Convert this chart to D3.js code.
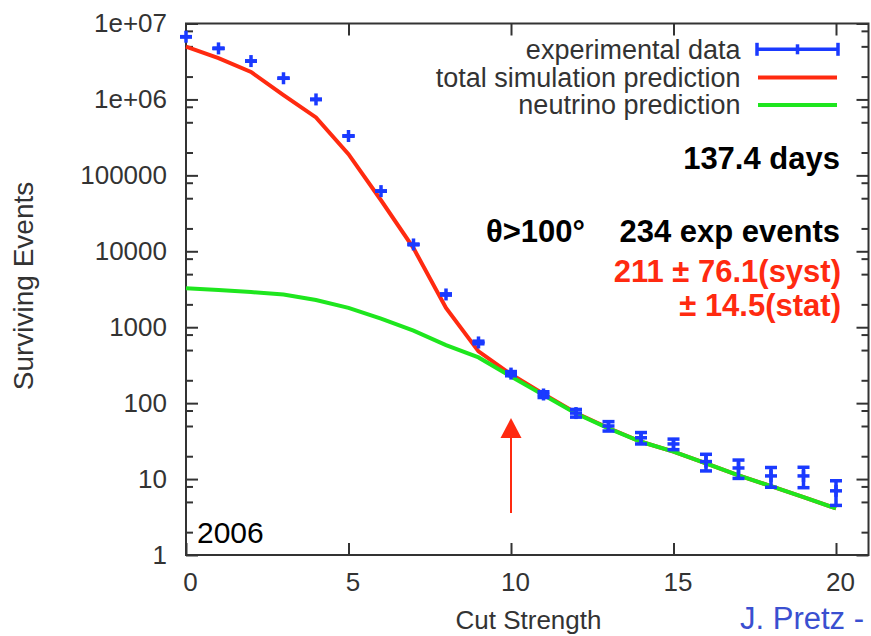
<!DOCTYPE html>
<html>
<head>
<meta charset="utf-8">
<script src="https://cdn.jsdelivr.net/npm/d3@7"></script>
<style>
  body { margin: 0; background: #fff; }
  svg { display: block; font-family: "Liberation Sans", Arial, Helvetica, sans-serif; }
  .axis text { font-size: 26px; fill: #333; }
  .axis line { stroke: #333; stroke-width: 2; }
</style>
</head>
<body>
<div id="chart"></div>
<script>
// cut strength bins
const cuts = [0, 1, 2, 3, 4, 5, 6, 7, 8, 9, 10, 11, 12, 13, 14, 15, 16, 17, 18, 19, 20];
const expData = [6.7e6, 4.7e6, 3.2e6, 1.9e6, 1.0e6, 3.3e5, 6.2e4, 1.23e4, 2.7e3, 630, 245, 130, 74, 50, 35, 29, 17, 14, 11, 11, 7];
const expErr = [2590, 2170, 1790, 1380, 1000, 575, 249, 111, 52, 25, 15.7, 11.4, 8.6, 7.1, 6, 4.6, 4.2, 3.8, 3.2, 3.3, 2.5];
// simulation curves
const simTotal = [4.95e6, 3.5e6, 2.3e6, 1.14e6, 5.8e5, 1.9e5, 4.7e4, 1.1e4, 1.8e3, 480, 240, 132, 74, 47, 31, 23, 16.1, 11.2, 8.05, 5.8, 4.1];
const simNeutrino = [3250, 3080, 2900, 2700, 2280, 1800, 1300, 900, 580, 400, 225, 128, 73, 46.5, 31, 23, 16.1, 11.2, 8.05, 5.8, 4.1];

const xTicks = [0, 5, 10, 15, 20];
const yTicks = [1, 10, 100, 1000, 1e4, 1e5, 1e6, 1e7];
const yTickLabels = ['1', '10', '100', '1000', '10000', '100000', '1e+06', '1e+07'];
const legendLabels = ['experimental data', 'total simulation prediction', 'neutrino prediction'];

const blue = '#1a3aff', red = '#ff2a10', green = '#1ee61e';

const width = 871, height = 636;
const plot = { left: 186, top: 23.5, right: 868.5, bottom: 555 };

const x = d3.scaleLinear().domain([0, 21]).range([plot.left, plot.right]);
const y = d3.scaleLog().domain([1, 1e7]).range([plot.bottom, plot.top]);

const yMinor = yTicks.slice(0, -1).flatMap(d => [2 * d, 5 * d, 8 * d]);

const svg = d3.select('#chart').append('svg')
    .attr('width', width)
    .attr('height', height);

// axes
function addAxis(axis, tx, ty) {
    const g = svg.append('g')
        .attr('class', 'axis')
        .attr('transform', `translate(${tx},${ty})`)
        .call(axis);
    g.select('.domain').remove();
    return g;
}

addAxis(d3.axisLeft(y).tickValues(yTicks).tickFormat((d, i) => yTickLabels[i]).tickSize(-12).tickPadding(19), plot.left, 0);
addAxis(d3.axisLeft(y).tickValues(yMinor).tickFormat('').tickSize(-7), plot.left, 0);
addAxis(d3.axisRight(y).tickValues(yTicks).tickFormat('').tickSize(-12), plot.right, 0);
addAxis(d3.axisRight(y).tickValues(yMinor).tickFormat('').tickSize(-7), plot.right, 0);
addAxis(d3.axisBottom(x).tickValues(xTicks).tickSize(-12).tickPadding(18), 0, plot.bottom)
    .selectAll('text').attr('dx', 4);
addAxis(d3.axisTop(x).tickValues(xTicks.slice(1)).tickFormat('').tickSize(-12), 0, plot.top);

svg.append('rect')
    .attr('x', plot.left)
    .attr('y', plot.top)
    .attr('width', plot.right - plot.left)
    .attr('height', plot.bottom - plot.top)
    .attr('fill', 'none')
    .attr('stroke', '#333')
    .attr('stroke-width', 2);

// curves
const line = d3.line()
    .x((d, i) => x(cuts[i]))
    .y(d => y(d));

svg.append('path')
    .attr('d', line(simTotal))
    .attr('fill', 'none')
    .attr('stroke', red)
    .attr('stroke-width', 4);

svg.append('path')
    .attr('d', line(simNeutrino))
    .attr('fill', 'none')
    .attr('stroke', green)
    .attr('stroke-width', 4);

// data points with error bars
const pts = svg.append('g')
    .attr('stroke', blue)
    .attr('stroke-width', 3.5)
    .selectAll('g')
    .data(expData)
    .join('g')
    .attr('transform', (d, i) => `translate(${x(cuts[i])},0)`);

pts.append('line')
    .attr('y1', (d, i) => y(d - expErr[i]))
    .attr('y2', (d, i) => y(d + expErr[i]));
pts.append('line')
    .attr('x1', -6).attr('x2', 6)
    .attr('y1', (d, i) => y(d - expErr[i]))
    .attr('y2', (d, i) => y(d - expErr[i]));
pts.append('line')
    .attr('x1', -6).attr('x2', 6)
    .attr('y1', (d, i) => y(d + expErr[i]))
    .attr('y2', (d, i) => y(d + expErr[i]));
pts.append('line')
    .attr('x1', -6).attr('x2', 6)
    .attr('y1', d => y(d))
    .attr('y2', d => y(d));
pts.append('line')
    .attr('y1', d => y(d) - 6)
    .attr('y2', d => y(d) + 6);

// legend
const legendY = [49.3, 77.5, 105];
const legend = svg.append('g');
legend.selectAll('text')
    .data(legendLabels)
    .join('text')
    .attr('x', 740.5)
    .attr('y', (d, i) => legendY[i])
    .attr('dy', '0.35em')
    .attr('text-anchor', 'end')
    .attr('font-size', 27)
    .attr('fill', '#333')
    .text(d => d);

const eg = legend.append('g').attr('stroke', blue).attr('stroke-width', 3.5);
eg.append('line').attr('x1', 757).attr('x2', 838).attr('y1', legendY[0]).attr('y2', legendY[0]);
[757, 797.5, 838].forEach((cx, i) => {
    const h = i === 1 ? 5 : 6.5;
    eg.append('line').attr('x1', cx).attr('x2', cx).attr('y1', legendY[0] - h).attr('y2', legendY[0] + h);
});
legend.append('line').attr('x1', 758).attr('x2', 837).attr('y1', legendY[1]).attr('y2', legendY[1])
    .attr('stroke', red).attr('stroke-width', 4);
legend.append('line').attr('x1', 758).attr('x2', 837).attr('y1', legendY[2]).attr('y2', legendY[2])
    .attr('stroke', green).attr('stroke-width', 4);

// annotations
const note = svg.append('g').attr('font-weight', 'bold').attr('font-size', 31);
note.append('text').attr('x', 840).attr('y', 169).attr('text-anchor', 'end').attr('fill', '#000').text('137.4 days');
note.append('text').attr('x', 486).attr('y', 242).attr('fill', '#000').text('θ>100°');
note.append('text').attr('x', 840).attr('y', 242).attr('text-anchor', 'end').attr('fill', '#000').text('234 exp events');
note.append('text').attr('x', 841).attr('y', 282).attr('text-anchor', 'end').attr('fill', red).text('211 ± 76.1(syst)');
note.append('text').attr('x', 841).attr('y', 316).attr('text-anchor', 'end').attr('fill', red).text('± 14.5(stat)');

svg.append('text')
    .attr('x', 197).attr('y', 542.5)
    .attr('font-size', 30)
    .attr('fill', '#000')
    .text('2006');

// arrow at the chosen cut
const ax = x(10);
svg.append('line')
    .attr('x1', ax).attr('x2', ax)
    .attr('y1', 513).attr('y2', 436)
    .attr('stroke', red).attr('stroke-width', 2);
svg.append('path')
    .attr('d', `M${ax - 10.5},438 L${ax + 10.5},438 L${ax},418 Z`)
    .attr('fill', red);

// axis titles
svg.append('text')
    .attr('transform', 'translate(33,286) rotate(-90)')
    .attr('text-anchor', 'middle')
    .attr('font-size', 28)
    .attr('fill', '#333')
    .text('Surviving Events');

svg.append('text')
    .attr('x', 528.5).attr('y', 629)
    .attr('text-anchor', 'middle')
    .attr('font-size', 26)
    .attr('fill', '#333')
    .text('Cut Strength');

svg.append('text')
    .attr('x', 740).attr('y', 629)
    .attr('font-size', 31)
    .attr('fill', '#3a4fd0')
    .text('J. Pretz -');
</script>
</body>
</html>
